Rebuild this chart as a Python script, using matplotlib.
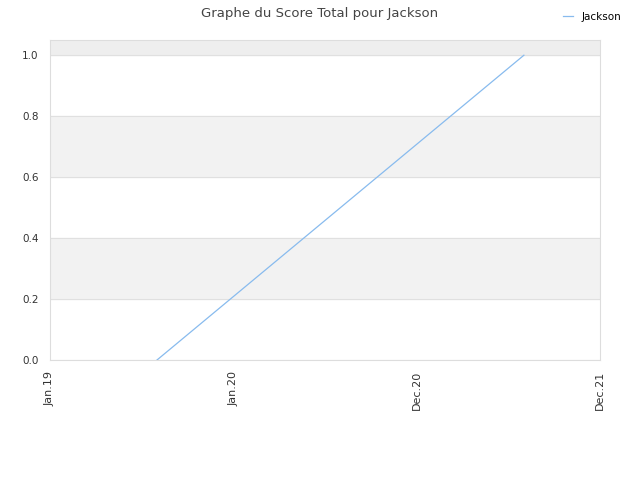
import matplotlib
matplotlib.use("Agg")
import matplotlib.pyplot as plt

# data
tick_labels = ["Jan.19", "Jan.20", "Dec.20", "Dec.21"]
x_vals = [0.584, 2.585]
scores = [0.0, 1.0]
yticks = [0.0, 0.2, 0.4, 0.6, 0.8, 1.0]

fig = plt.figure(figsize=(6.4, 4.8), dpi=100)
ax = fig.add_axes([0.078, 0.25, 0.8595, 0.6667])

# alternating bands
ax.axhspan(1.0, 1.05, color="#eeeeee", zorder=0)
ax.axhspan(0.6, 0.8, color="#f2f2f2", zorder=0)
ax.axhspan(0.2, 0.4, color="#f2f2f2", zorder=0)
for y in yticks:
    ax.axhline(y, color="#e0e0e0", lw=0.8, zorder=1)

ax.plot(x_vals, scores, color="#88bbee", lw=0.9, label="Jackson", zorder=3)

ax.set_xlim(0, 3)
ax.set_ylim(0, 1.05)
ax.set_xticks(range(len(tick_labels)))
ax.set_xticklabels(tick_labels, rotation=90, fontsize=8, color="#333333")
ax.set_yticks(yticks)
ax.set_yticklabels(["%.1f" % v for v in yticks], fontsize=7.5, color="#333333")
ax.tick_params(axis="x", length=0, pad=8)
ax.tick_params(axis="y", length=0, pad=8)
for s in ax.spines.values():
    s.set_color("#dddddd")

fig.suptitle("Graphe du Score Total pour Jackson", fontsize=9.5, color="#444444", y=0.985)
fig.legend(loc="upper right", bbox_to_anchor=(0.985, 0.995), frameon=False, fontsize=7.5,
           handlelength=1.0)

fig.savefig("out.png", dpi=100)
